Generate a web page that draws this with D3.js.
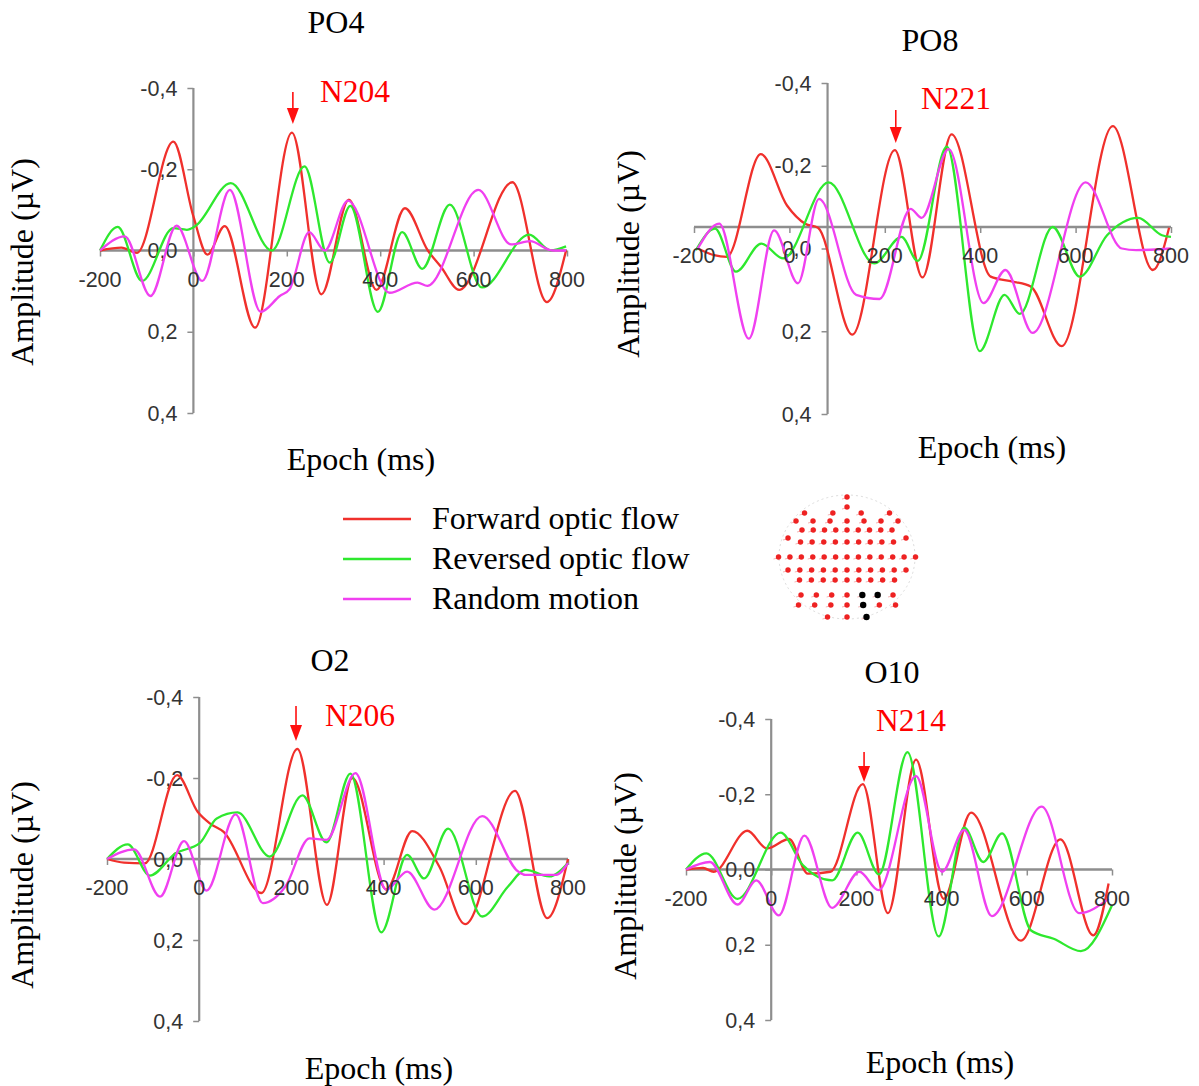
<!DOCTYPE html>
<html>
<head>
<meta charset="utf-8">
<script src="https://cdn.jsdelivr.net/npm/d3@7"></script>
<style>
  body { margin: 0; background: #fff; }
  svg text { font-family: "Liberation Serif", "Times New Roman", serif; }
  .tick-label { font-family: "Liberation Sans", Arial, sans-serif; font-size: 21.5px; fill: #333; }
</style>
</head>
<body>
<svg id="chart" width="1199" height="1086"></svg>
<script>
// ---- data: [epoch ms, amplitude µV] ----
var xTicks = [-200, 0, 200, 400, 600, 800];
var yTicks = [-0.4, -0.2, 0, 0.2, 0.4];
var yTickLabels = ["-0,4", "-0,2", "0,0", "0,2", "0,4"];
var seriesNames = ["Forward optic flow", "Reversed optic flow", "Random motion"];
var seriesColors = ["#f0302c", "#2ee82e", "#f040f0"];

var po4Forward = [[-200,0],[-154,-0.007],[-121,0.006],[-43,-0.268],[0,-0.084],[30,0.01],[67,-0.06],[132,0.19],[211,-0.29],[274,0.108],[333,-0.125],[392,0.097],[453,-0.104],[502,0],[530,0.04],[569,0.097],[683,-0.168],[757,0.127],[798,0]];
var po4Reversed = [[-200,0],[-162,-0.058],[-110,0.075],[-43,-0.055],[-14,-0.051],[4,-0.06],[80,-0.166],[168,0],[238,-0.207],[292,0.03],[336,-0.11],[395,0.151],[447,-0.045],[490,0.045],[549,-0.113],[618,0.091],[719,-0.039],[765,0],[798,-0.01]];
var po4Random = [[-200,0],[-147,-0.035],[-92,0.112],[-36,-0.061],[19,0.075],[78,-0.149],[144,0.151],[185,0.112],[206,0.095],[248,-0.045],[281,0],[331,-0.123],[420,0.104],[480,0.079],[501,0.087],[610,-0.149],[680,-0.015],[721,-0.023],[768,0],[798,0]];

var po8Forward = [[-192,0],[-158,0.016],[-131,0.02],[-60,-0.228],[-5,-0.104],[33,-0.06],[60,-0.05],[132,0.208],[221,-0.238],[279,0.07],[340,-0.276],[422,0.068],[468,0.08],[506,0.092],[571,0.236],[678,-0.296],[762,0.052],[796,-0.05]];
var po8Reversed = [[-196,0.004],[-156,-0.048],[-112,0.056],[-59,-0.012],[-13,0.024],[82,-0.16],[178,0.036],[235,-0.028],[269,0.03],[330,-0.246],[399,0.248],[451,0.112],[483,0.158],[552,-0.052],[609,0.068],[666,-0.032],[731,-0.074],[781,-0.032],[800,-0.028]];
var po8Random = [[-192,0],[-147,-0.06],[-85,0.218],[-32,-0.044],[18,0.084],[62,-0.12],[140,0.112],[189,0.122],[254,-0.096],[277,-0.074],[334,-0.24],[407,0.132],[453,0.052],[510,0.204],[621,-0.16],[697,0],[727,0.004],[800,0]];

var o2Forward = [[-200,0],[-163,0.009],[-118,0.011],[-48,-0.207],[-3,-0.116],[23,-0.088],[53,-0.067],[135,0.084],[213,-0.272],[277,0.113],[332,-0.2],[406,0.075],[462,-0.069],[521,0.019],[577,0.161],[685,-0.168],[755,0.146],[800,0]];
var o2Reversed = [[-200,0],[-155,-0.036],[-107,0.041],[-51,-0.014],[1,-0.039],[38,-0.1],[83,-0.115],[153,-0.006],[224,-0.157],[276,-0.041],[328,-0.211],[395,0.181],[451,-0.01],[488,0.048],[540,-0.075],[614,0.142],[670,0.068],[708,0.027],[759,0.043],[800,0.01]];
var o2Random = [[-200,0],[-141,-0.024],[-85,0.093],[-33,-0.044],[16,0.078],[79,-0.11],[138,0.109],[187,0.068],[239,-0.051],[276,-0.047],[339,-0.212],[406,0.076],[451,0.031],[510,0.125],[614,-0.106],[692,0.031],[707,0.039],[774,0.039],[800,0.01]];

var o10Forward = [[-200,0],[-160,-0.004],[-135,0.006],[-56,-0.103],[-10,-0.056],[42,-0.081],[86,0.011],[139,0.006],[215,-0.227],[274,0.116],[340,-0.292],[405,0.078],[469,-0.151],[586,0.189],[679,-0.08],[756,0.175],[792,0.037]];
var o10Reversed = [[-200,0],[-152,-0.043],[-79,0.078],[22,-0.098],[74,-0.012],[143,0.029],[203,-0.098],[253,0.013],[320,-0.312],[393,0.178],[453,-0.111],[498,-0.02],[542,-0.096],[610,0.162],[663,0.184],[727,0.217],[800,0.095]];
var o10Random = [[-200,0],[-144,-0.02],[-79,0.093],[-35,0.029],[18,0.122],[78,-0.09],[143,0.102],[207,0.006],[252,0.055],[340,-0.248],[401,0.006],[453,-0.105],[518,0.124],[635,-0.167],[723,0.116],[792,0.078]];

// electrode map: sensor count per row (top to bottom) and row spans; highlighted ones as [row, col]
var headRowCounts = [1, 1, 4, 7, 9, 2, 9, 13, 11, 9, 7, 7, 3];
var headRowSpans = [0, 0, 85, 102, 90, 118, 93, 137, 118, 95, 92, 97, 39];
var headRowY = [497, 507, 513, 521, 530, 538, 542, 557, 570, 580, 595, 605, 617];
var headHighlighted = [[10, 4], [10, 5], [11, 4], [12, 2]];

// ---- layout for each panel ----
var panels = [
  { title: "PO4", peak: "N204", peakMs: 213, series: [po4Forward, po4Reversed, po4Random],
    x0: 100, x1: 567, y0: 88, y1: 413, xCross: 0, yCross: 0,
    titleX: 336, titleY: 33, ylabX: 22, ylabY: 262, xlabX: 361, xlabY: 470,
    arrowTop: 92, arrowBot: 124, peakLabelX: 320, peakLabelY: 102 },
  { title: "PO8", peak: "N221", peakMs: 223, series: [po8Forward, po8Reversed, po8Random],
    x0: 694, x1: 1171, y0: 83, y1: 414, xCross: 80, yCross: -0.052,
    titleX: 930, titleY: 51, ylabX: 628, ylabY: 254, xlabX: 992, xlabY: 458,
    arrowTop: 110, arrowBot: 143, peakLabelX: 921, peakLabelY: 109 },
  { title: "O2", peak: "N206", peakMs: 210, series: [o2Forward, o2Reversed, o2Random],
    x0: 107, x1: 568, y0: 697, y1: 1021, xCross: 0, yCross: 0,
    titleX: 330, titleY: 671, ylabX: 22, ylabY: 885, xlabX: 379, xlabY: 1079,
    arrowTop: 706, arrowBot: 741, peakLabelX: 325, peakLabelY: 726 },
  { title: "O10", peak: "N214", peakMs: 218, series: [o10Forward, o10Reversed, o10Random],
    x0: 686, x1: 1112, y0: 719, y1: 1020, xCross: 0, yCross: 0,
    titleX: 892, titleY: 683, ylabX: 625, ylabY: 876, xlabX: 940, xlabY: 1073,
    arrowTop: 752, arrowBot: 782, peakLabelX: 876, peakLabelY: 731 }
];

var svg = d3.select("#chart");

function drawPanel(p) {
  var g = svg.append("g").attr("class", "panel");
  var x = d3.scaleLinear().domain([-200, 800]).range([p.x0, p.x1]);
  var y = d3.scaleLinear().domain([-0.4, 0.4]).range([p.y0, p.y1]);

  // x axis line sits at yCross, y axis at xCross
  var xAxis = d3.axisBottom(x).tickValues(xTicks).tickSize(6).tickFormat(function () { return ""; });
  var xg = g.append("g").attr("transform", "translate(0," + y(p.yCross) + ")").call(xAxis);
  xg.select(".domain").attr("stroke", "#8e8e8e").attr("stroke-width", 2.6).attr("d", "M" + p.x0 + ",0H" + p.x1);
  xg.selectAll(".tick line").attr("stroke", "#8e8e8e").attr("stroke-width", 1.5);

  var yAxis = d3.axisLeft(y).tickValues(yTicks).tickSize(6).tickFormat(function () { return ""; });
  var yg = g.append("g").attr("transform", "translate(" + x(p.xCross) + ",0)").call(yAxis);
  yg.select(".domain").attr("stroke", "#8e8e8e").attr("stroke-width", 2.2).attr("d", "M0," + p.y0 + "V" + p.y1);
  yg.selectAll(".tick line").attr("stroke", "#8e8e8e").attr("stroke-width", 1.5);

  // tick labels (drawn ourselves so they can overlap the traces like the original)
  g.selectAll("text.ylab").data(yTicks).enter().append("text")
    .attr("class", "tick-label")
    .attr("x", x(p.xCross) - 16)
    .attr("y", function (d) { return y(d); })
    .attr("dy", "0.36em")
    .attr("text-anchor", "end")
    .text(function (d, i) { return yTickLabels[i]; });

  // traces
  var line = d3.line()
    .x(function (d) { return x(d[0]); })
    .y(function (d) { return y(d[1]); })
    .curve(d3.curveMonotoneX);
  p.series.forEach(function (s, i) {
    g.append("path").datum(s)
      .attr("d", line)
      .attr("fill", "none")
      .attr("stroke", seriesColors[i])
      .attr("stroke-width", 2.3);
  });

  g.selectAll("text.xlab").data(xTicks).enter().append("text")
    .attr("class", "tick-label")
    .attr("x", function (d) { return x(d); })
    .attr("y", y(p.yCross) + 36)
    .attr("text-anchor", "middle")
    .text(function (d) { return d; });

  // titles
  g.append("text").attr("x", p.titleX).attr("y", p.titleY)
    .attr("text-anchor", "middle").attr("font-size", 32).text(p.title);
  g.append("text").attr("x", p.xlabX).attr("y", p.xlabY)
    .attr("text-anchor", "middle").attr("font-size", 32).text("Epoch (ms)");
  g.append("text")
    .attr("transform", "translate(" + p.ylabX + "," + p.ylabY + ") rotate(-90)")
    .attr("text-anchor", "middle").attr("dy", "0.35em")
    .attr("font-size", 32).text("Amplitude (µV)");

  // peak annotation
  var ax = x(p.peakMs);
  g.append("line").attr("x1", ax).attr("x2", ax)
    .attr("y1", p.arrowTop).attr("y2", p.arrowBot - 12)
    .attr("stroke", "#ff1010").attr("stroke-width", 1.6);
  g.append("path")
    .attr("d", "M" + (ax - 6) + "," + (p.arrowBot - 16) + "L" + (ax + 6) + "," + (p.arrowBot - 16) + "L" + ax + "," + p.arrowBot + "Z")
    .attr("fill", "#ff1010");
  g.append("text").attr("x", p.peakLabelX).attr("y", p.peakLabelY)
    .attr("font-size", 31.5).attr("fill", "#ff0000").text(p.peak);
}

panels.forEach(drawPanel);

// legend
var legend = svg.append("g");
seriesNames.forEach(function (name, i) {
  var ly = 519 + i * 40;
  legend.append("line").attr("x1", 343).attr("x2", 411).attr("y1", ly).attr("y2", ly)
    .attr("stroke", seriesColors[i]).attr("stroke-width", 2.4);
  legend.append("text").attr("x", 432).attr("y", ly + 10)
    .attr("font-size", 32).text(name);
});

// electrode map
var head = svg.append("g");
var headCx = 847;
head.append("ellipse").attr("cx", headCx).attr("cy", 557).attr("rx", 68).attr("ry", 62)
  .attr("fill", "none").attr("stroke", "#dcdcdc").attr("stroke-width", 1).attr("stroke-dasharray", "2,3");
headRowCounts.forEach(function (n, r) {
  var span = headRowSpans[r];
  for (var c = 0; c < n; c++) {
    var ex = n > 1 ? headCx - span / 2 + c * span / (n - 1) : headCx;
    var ey = headRowY[r];
    var hot = headHighlighted.some(function (h) { return h[0] === r && h[1] === c; });
    head.append("line").attr("x1", ex - 5).attr("x2", ex + 3).attr("y1", ey + 2).attr("y2", ey)
      .attr("stroke", "#f6b4b4").attr("stroke-width", 1);
    head.append("circle").attr("cx", ex).attr("cy", ey).attr("r", hot ? 3.2 : 2.7)
      .attr("fill", hot ? "#000" : "#ee2222");
  }
});
</script>
</body>
</html>
